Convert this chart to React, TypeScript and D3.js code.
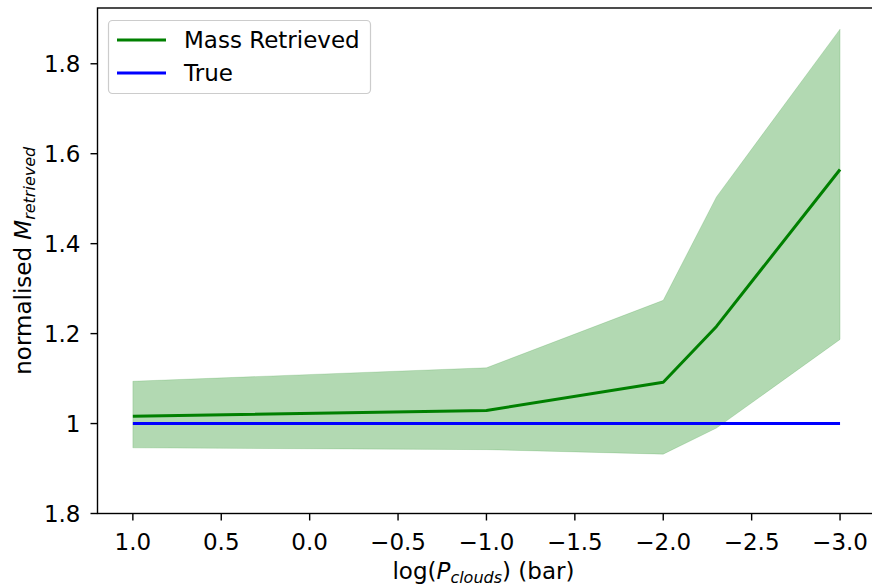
import React from "react";
import * as d3 from "d3";

const logP = [1.0, -1.0, -2.0, -2.301, -3.0];
const massMean = [1.016, 1.029, 1.092, 1.216, 1.565];
const massLow = [0.946, 0.942, 0.932, 0.99, 1.187];
const massHigh = [1.094, 1.124, 1.274, 1.504, 1.877];
const trueMass = [1, 1, 1, 1, 1];
const xTicks = [1.0, 0.5, 0.0, -0.5, -1.0, -1.5, -2.0, -2.5, -3.0];
const yTickValues = [0.8, 1.0, 1.2, 1.4, 1.6, 1.8];
const yTickLabels = ["1.8", "1", "1.2", "1.4", "1.6", "1.8"];

const W = 872;
const H = 587;
const left = 97.5;
const right = 875.4;
const top = 8;
const bottom = 513.5;
const FONT = "'DejaVu Sans', sans-serif";
const FS = 23;
const SUB = 16;

export default function App() {
  const x = d3.scaleLinear().domain([1.2, -3.2]).range([left, right]);
  const y = d3.scaleLinear().domain([0.8, 1.924]).range([bottom, top]);
  const idx = logP.map((_, i) => i);
  const area = d3
    .area<number>()
    .x((i) => x(logP[i]))
    .y0((i) => y(massLow[i]))
    .y1((i) => y(massHigh[i]));
  const meanLine = d3
    .line<number>()
    .x((i) => x(logP[i]))
    .y((i) => y(massMean[i]));
  const trueLine = d3
    .line<number>()
    .x((i) => x(logP[i]))
    .y((i) => y(trueMass[i]));
  const fmt = (v: number) => (v < 0 ? "\u2212" : "") + Math.abs(v).toFixed(1);

  return (
    <svg
      width={W}
      height={H}
      style={{ position: "absolute", left: 0, top: 0, background: "#fff" }}
      fontFamily={FONT}
    >
      <rect x={0} y={0} width={W} height={H} fill="#fff" />
      <path d={area(idx) ?? ""} fill="green" fillOpacity={0.3} stroke="green" strokeOpacity={0.15} strokeWidth={1} />
      <path d={meanLine(idx) ?? ""} fill="none" stroke="green" strokeWidth={3} strokeLinejoin="round" />
      <path d={trueLine(idx) ?? ""} fill="none" stroke="blue" strokeWidth={3} />

      {/* spines */}
      <rect x={left} y={top} width={right - left} height={bottom - top} fill="none" stroke="#000" strokeWidth={1.4} />

      {/* x ticks */}
      {xTicks.map((t) => (
        <g key={"x" + t}>
          <line x1={x(t)} x2={x(t)} y1={bottom} y2={bottom + 7} stroke="#000" strokeWidth={1.4} />
          <text x={x(t)} y={bottom + 36} textAnchor="middle" fontSize={FS} fill="#000">
            {fmt(t)}
          </text>
        </g>
      ))}
      {/* y ticks */}
      {yTickValues.map((t, i) => (
        <g key={"y" + i}>
          <line x1={left - 7} x2={left} y1={y(t)} y2={y(t)} stroke="#000" strokeWidth={1.4} />
          <text x={left - 17} y={y(t) + 8.5} textAnchor="end" fontSize={FS} fill="#000">
            {yTickLabels[i]}
          </text>
        </g>
      ))}

      {/* axis labels */}
      <text x={(left + right) / 2 - 3} y={579} textAnchor="middle" fontSize={FS} fill="#000">
        log(<tspan fontStyle="italic">P</tspan>
        <tspan fontStyle="italic" fontSize={SUB} dy={4}>clouds</tspan>
        <tspan dy={-4}>) (bar)</tspan>
      </text>
      <text
        transform={`translate(31, ${(top + bottom) / 2}) rotate(-90)`}
        textAnchor="middle"
        fontSize={FS}
        fill="#000"
      >
        normalised <tspan fontStyle="italic">M</tspan>
        <tspan fontStyle="italic" fontSize={SUB} dy={4}>retrieved</tspan>
      </text>

      {/* legend */}
      <rect x={108.5} y={20.5} width={262} height={73} rx={4} fill="#fff" fillOpacity={0.8} stroke="#ccc" strokeWidth={1.2} />
      <line x1={117} x2={166} y1={40} y2={40} stroke="green" strokeWidth={3} />
      <text x={184} y={48} fontSize={FS} fill="#000">Mass Retrieved</text>
      <line x1={117} x2={166} y1={73} y2={73} stroke="blue" strokeWidth={3} />
      <text x={184} y={81} fontSize={FS} fill="#000">True</text>
    </svg>
  );
}
